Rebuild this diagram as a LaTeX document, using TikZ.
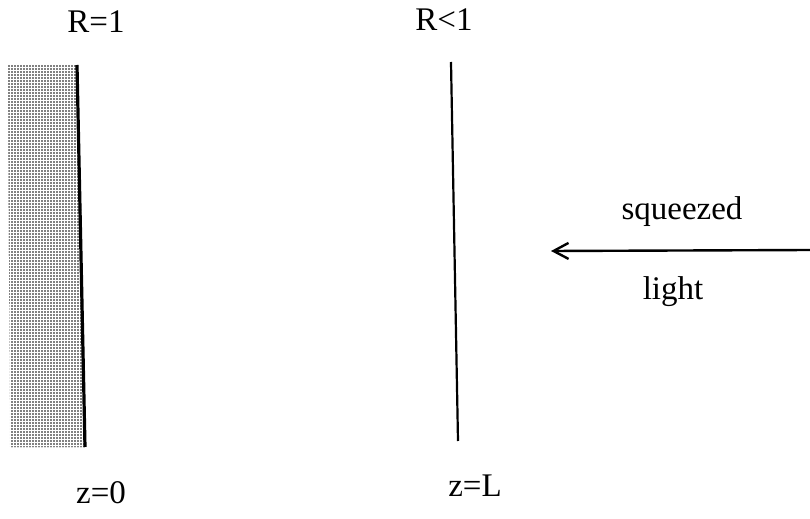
\documentclass[tikz,border=0pt]{standalone}
\usepackage{fontspec}
\setmainfont{Liberation Serif}
\usetikzlibrary{arrows.meta, patterns.meta, positioning}

\begin{document}
\begin{tikzpicture}[
        x=0.5pt, y=-0.5pt,
        label/.style={font=\fontsize{16.5}{19}\selectfont, inner sep=0pt},
        mirror/.style={line width=1.6pt},
        coupler/.style={line width=1.1pt},
        arrow/.style={-{Straight Barb[length=7.5pt, width=8pt, line width=1.2pt]}, line width=1.2pt}
    ]
    \useasboundingbox (0,0) rectangle (810,519);

    % Back mirror (perfect reflector, shaded substrate)
    \fill[pattern={Dots[distance=1.5pt, radius=0.42pt]}, pattern color=black] (8,65) -- (78,65) -- (86,447) -- (10,447) -- cycle;
    \coordinate (m1top) at (77,65);
    \coordinate (m1bot) at (85,447);
    \draw[mirror] (m1top) -- (m1bot);

    % Front mirror (partial reflector)
    \coordinate (m2top) at (451,62);
    \coordinate (m2bot) at (458,441);
    \draw[coupler] (m2top) -- (m2bot);

    % Labels
    \node[label] (r1) at (96,22) {R=1};
    \node[label] (r2) at (444,20) {R<1};
    \node[label] (z0) at (101,493) {z=0};
    \node[label] (zl) at (475,486) {z=L};

    % Incoming squeezed light
    \coordinate (src) at (810,250);
    \coordinate (dst) at (551,251);
    \draw[arrow] (src) -- (dst);
    \node[label] (sq) at (682,212) {squeezed};
    \node[label] (li) at (673,292) {light};

\end{tikzpicture}
\end{document}
